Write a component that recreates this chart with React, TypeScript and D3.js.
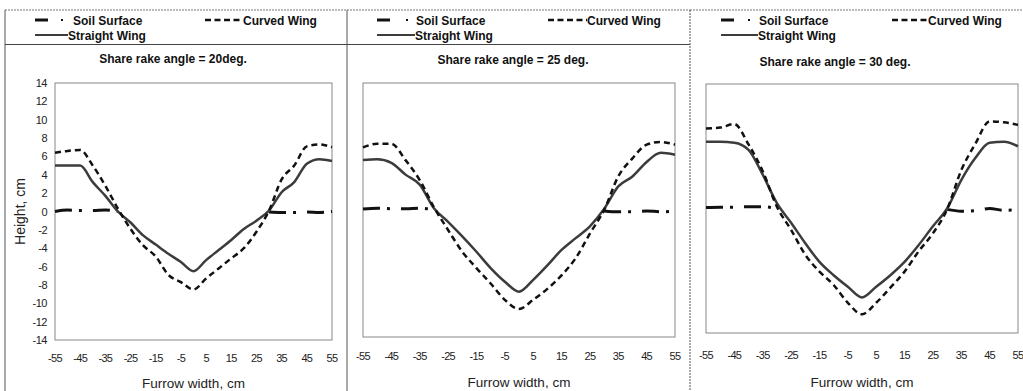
import React from "react";
import * as d3 from "d3";

// furrow cross-section, x positions (cm)
const FURROW_X = [-55, -50, -45, -40, -35, -30, -25, -20, -15, -10, -5, 0, 5, 10, 15, 20, 25, 30, 35, 40, 45, 50, 55];
const X_TICKS = [-55, -45, -35, -25, -15, -5, 5, 15, 25, 35, 45, 55];
const Y_TICKS = [14, 12, 10, 8, 6, 4, 2, 0, -2, -4, -6, -8, -10, -12, -14];

const N = null;
// rake angle 20 deg
const SOIL_20 = [0, 0.15, 0.1, 0.1, 0.15, 0, N, N, N, N, N, N, N, N, N, N, N, -0.05, -0.1, -0.1, -0.05, -0.1, 0];
const CURVED_20 = [6.4, 6.6, 6.7, 5.0, 2.8, 0.3, -1.9, -3.7, -4.9, -6.9, -7.7, -8.5, -7.3, -6.2, -5.1, -4.0, -2.2, 0.1, 3.5, 5.0, 7.1, 7.3, 7.0];
const STRAIGHT_20 = [5.0, 5.0, 5.0, 3.2, 1.7, 0, -1.2, -2.6, -3.6, -4.6, -5.5, -6.5, -5.3, -4.2, -3.1, -1.9, -1.0, 0.1, 2.1, 3.2, 5.2, 5.7, 5.5];
// rake angle 25 deg
const SOIL_25 = [0.1, 0.2, 0.15, 0.15, 0.2, 0.05, N, N, N, N, N, N, N, N, N, N, N, -0.1, -0.2, -0.2, -0.1, -0.2, -0.1];
const CURVED_25 = [6.9, 7.3, 7.3, 5.5, 3.3, 0.3, -2.2, -4.6, -6.4, -8.1, -9.9, -10.9, -9.9, -8.7, -7.2, -5.3, -2.6, 0, 3.7, 5.7, 7.2, 7.5, 7.2];
const STRAIGHT_25 = [5.5, 5.6, 5.2, 3.9, 2.8, 0.2, -1.3, -2.9, -4.6, -6.4, -7.9, -9.0, -7.7, -6.1, -4.4, -3.1, -1.8, 0.1, 2.6, 3.7, 5.3, 6.3, 6.1];
// rake angle 30 deg
const SOIL_30 = [0.1, 0.15, 0.15, 0.2, 0.2, 0, N, N, N, N, N, N, N, N, N, N, N, -0.1, -0.3, -0.25, 0, -0.2, -0.15];
const CURVED_30 = [9.0, 9.1, 9.5, 7.2, 4.2, 0.2, -2.4, -5.2, -7.1, -8.6, -10.6, -11.9, -10.6, -8.9, -7.1, -4.8, -2.8, -0.1, 4.3, 7.3, 9.8, 9.7, 9.4];
const STRAIGHT_30 = [7.5, 7.5, 7.4, 6.6, 3.8, 0.6, -1.6, -3.9, -6.0, -7.5, -8.8, -10.0, -8.8, -7.5, -6.0, -4.1, -2.0, 0, 3.2, 5.7, 7.4, 7.5, 7.0];

const FONT = "'Liberation Sans', Arial, sans-serif";
const INK = "#111";
const GREY_LINE = "#3c3c3c";

type Panel = {
  title: string;
  soil: (number | null)[];
  curved: number[];
  straight: number[];
  frameLeft: number;
  frameRight: number;
  plot: { left: number; right: number; top: number; bottom: number };
  showY: boolean;
  titleX: number;
  titleY: number;
  tickY: number;
  xTitleY: number;
  legend: { soilX: number; dotX: number; soilText: number; curvedX: number; curvedText: number; straightX: number; straightText: number };
  separator: boolean;
  dotted: boolean;
};

const PANELS: Panel[] = [
  {
    title: "Share rake angle = 20deg.",
    soil: SOIL_20, curved: CURVED_20, straight: STRAIGHT_20,
    frameLeft: 5, frameRight: 347,
    plot: { left: 55, right: 332, top: 83, bottom: 340 },
    showY: true,
    titleX: 173, titleY: 63, tickY: 362, xTitleY: 388,
    legend: { soilX: 35, dotX: 62, soilText: 73, curvedX: 205, curvedText: 243, straightX: 35, straightText: 68 },
    separator: true, dotted: false,
  },
  {
    title: "Share rake angle = 25 deg.",
    soil: SOIL_25, curved: CURVED_25, straight: STRAIGHT_25,
    frameLeft: 347, frameRight: 690,
    plot: { left: 363, right: 675, top: 83, bottom: 337 },
    showY: false,
    titleX: 513, titleY: 64, tickY: 360, xTitleY: 387,
    legend: { soilX: 377, dotX: 407, soilText: 416, curvedX: 548, curvedText: 587, straightX: 377, straightText: 415 },
    separator: true, dotted: false,
  },
  {
    title: "Share rake angle = 30 deg.",
    soil: SOIL_30, curved: CURVED_30, straight: STRAIGHT_30,
    frameLeft: 690, frameRight: 1030,
    plot: { left: 706, right: 1018, top: 84, bottom: 333 },
    showY: false,
    titleX: 835, titleY: 66, tickY: 359, xTitleY: 387,
    legend: { soilX: 721, dotX: 749, soilText: 759, curvedX: 892, curvedText: 928, straightX: 721, straightText: 758 },
    separator: false, dotted: true,
  },
];

function ChartPanel({ p }: { p: Panel }) {
  const x = d3.scaleLinear().domain([-55, 55]).range([p.plot.left, p.plot.right]);
  const y = d3.scaleLinear().domain([-14, 14]).range([p.plot.bottom, p.plot.top]);

  const line = d3
    .line<number | null>()
    .defined((d) => d !== null)
    .x((_, i) => x(FURROW_X[i]))
    .y((d) => y(d as number))
    .curve(d3.curveMonotoneX);

  const lg = p.legend;
  const row1 = 20;
  const row2 = 35;
  const legendText = { fontFamily: FONT, fontSize: 12, fontWeight: 700, fill: INK } as const;

  return (
    <g>
      {/* outer frame */}
      <line x1={p.frameLeft} x2={p.frameRight} y1={10} y2={10} stroke="#777" strokeWidth={1} strokeDasharray="2 1" />
      <line x1={p.frameLeft} x2={p.frameLeft} y1={10} y2={391} stroke="#555" strokeWidth={1} strokeDasharray={p.dotted ? "2 1" : undefined} />
      {p.separator && <line x1={p.frameLeft} x2={p.frameRight} y1={44.5} y2={44.5} stroke="#444" strokeWidth={1} />}

      {/* legend */}
      <line x1={lg.soilX} x2={lg.soilX + 13} y1={row1} y2={row1} stroke={INK} strokeWidth={3} />
      <line x1={lg.dotX - 1} x2={lg.dotX + 1} y1={row1} y2={row1} stroke={INK} strokeWidth={2} />
      <text x={lg.soilText} y={row1 + 5} {...legendText}>Soil Surface</text>
      <line x1={lg.curvedX} x2={lg.curvedText} y1={row1} y2={row1} stroke={INK} strokeWidth={2.5} strokeDasharray="6 3.5" />
      <text x={lg.curvedText} y={row1 + 5} {...legendText}>Curved Wing</text>
      <line x1={lg.straightX} x2={lg.straightText} y1={row2} y2={row2} stroke={GREY_LINE} strokeWidth={2} />
      <text x={lg.straightText} y={row2 + 5} {...legendText}>Straight Wing</text>

      {/* title */}
      <text x={p.titleX} y={p.titleY} textAnchor="middle" {...legendText}>{p.title}</text>

      {/* plot box */}
      <rect x={p.plot.left} y={p.plot.top} width={p.plot.right - p.plot.left} height={p.plot.bottom - p.plot.top} fill="none" stroke="#888" strokeWidth={1} />

      {/* series */}
      <path d={line(p.soil) ?? ""} fill="none" stroke={INK} strokeWidth={3} strokeDasharray="17 7 3 11" />
      <path d={line(p.straight) ?? ""} fill="none" stroke={GREY_LINE} strokeWidth={2.5} strokeLinejoin="round" />
      <path d={line(p.curved) ?? ""} fill="none" stroke={INK} strokeWidth={2.5} strokeDasharray="6 4" />

      {/* axes labels */}
      {X_TICKS.map((t) => (
        <text key={t} x={x(t)} y={p.tickY} textAnchor="middle" fontFamily={FONT} fontSize={11} letterSpacing={-0.7} fill="#222">
          {t}
        </text>
      ))}
      {p.showY &&
        Y_TICKS.map((t) => (
          <text key={t} x={p.plot.left - 8} y={y(t) + 4} textAnchor="end" fontFamily={FONT} fontSize={11} letterSpacing={-0.5} fill="#222">
            {t}
          </text>
        ))}
      {p.showY && (
        <text transform={`translate(25,${(p.plot.top + p.plot.bottom) / 2}) rotate(-90)`} textAnchor="middle" fontFamily={FONT} fontSize={14} fill="#222">
          Height, cm
        </text>
      )}
      <text x={(p.plot.left + p.plot.right) / 2} y={p.xTitleY} textAnchor="middle" fontFamily={FONT} fontSize={13.5} fill="#222">
        Furrow width, cm
      </text>
    </g>
  );
}

export default function App() {
  return (
    <div style={{ position: "fixed", left: 0, top: 0, width: 1023, height: 391, background: "#fff" }}>
      <svg width={1023} height={391} style={{ display: "block" }}>
        <rect width={1023} height={391} fill="#fff" />
        {PANELS.map((p) => (
          <ChartPanel key={p.title} p={p} />
        ))}
      </svg>
    </div>
  );
}
